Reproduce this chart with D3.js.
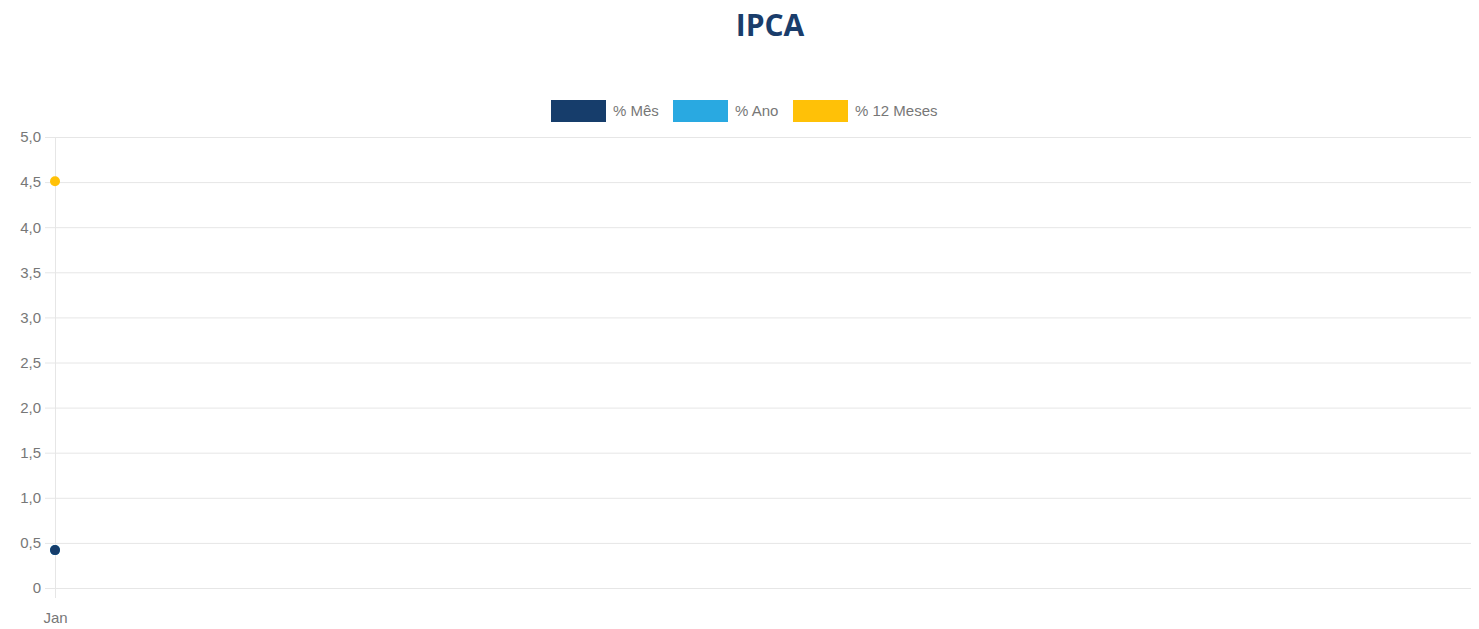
<!DOCTYPE html>
<html>
<head>
<meta charset="utf-8">
<script src="https://cdn.jsdelivr.net/npm/d3@7"></script>
<style>
  body { margin: 0; background: #fff; }
  svg { display: block; }
</style>
</head>
<body>
<svg id="graph"></svg>
<script>
const months = ["Jan"];
const seriesNames = ["% Mês", "% Ano", "% 12 Meses"];
const seriesColors = ["#163d6b", "#29a9e1", "#ffc107"];
const mes = [0.42];
const ano = [0.42];
const doze = [4.51];
const yTicks = [0, 0.5, 1, 1.5, 2, 2.5, 3, 3.5, 4, 4.5, 5];

const width = 1479;
const height = 629;
const margin = { top: 137, right: 8, bottom: 41, left: 55 };

const svg = d3.select("#graph").attr("width", width).attr("height", height);

const x = d3.scalePoint()
  .domain(months)
  .range([margin.left, width - margin.right])
  .align(0);
const y = d3.scaleLinear()
  .domain([0, 5])
  .range([height - margin.bottom, margin.top]);

const fmt = (v) => (v === 0 ? "0" : d3.format(".1f")(v).replace(".", ","));

// title
svg.append("text")
  .attr("x", 770)
  .attr("y", 36)
  .attr("text-anchor", "middle")
  .attr("font-family", "Open Sans")
  .attr("font-weight", "bold")
  .attr("font-size", 30)
  .attr("fill", "#1a3d6b")
  .text("IPCA");

// legend
const legendX = [551, 673, 793];
const legend = svg.append("g")
  .selectAll("g")
  .data(seriesNames)
  .join("g")
  .attr("transform", (d, i) => `translate(${legendX[i]},100)`);
legend.append("rect")
  .attr("width", 55)
  .attr("height", 22)
  .attr("fill", (d, i) => seriesColors[i]);
legend.append("text")
  .attr("x", 62)
  .attr("y", 16)
  .attr("font-family", "Liberation Sans, Arial")
  .attr("font-size", 15)
  .attr("fill", "#777")
  .text((d) => d);

// y grid + axis
svg.append("g")
  .attr("transform", `translate(${margin.left},0)`)
  .call(
    d3.axisLeft(y)
      .tickValues(yTicks)
      .tickFormat(fmt)
      .tickSize(-(width - margin.right - margin.left))
      .tickPadding(14)
  )
  .call((g) => g.select(".domain").remove())
  .call((g) => g.selectAll(".tick line").attr("stroke", "#e6e6e6").attr("x1", -10))
  .call((g) =>
    g.selectAll(".tick text")
      .attr("fill", "#777")
      .attr("font-family", "Liberation Sans, Arial")
      .attr("font-size", 15)
  );

// x axis
svg.append("g")
  .attr("transform", `translate(0,${margin.top})`)
  .call(
    d3.axisBottom(x)
      .tickSize(height - margin.bottom - margin.top + 10)
      .tickPadding(14)
  )
  .call((g) => g.select(".domain").remove())
  .call((g) => g.selectAll(".tick line").attr("stroke", "#e6e6e6"))
  .call((g) =>
    g.selectAll(".tick text")
      .attr("fill", "#777")
      .attr("font-family", "Liberation Sans, Arial")
      .attr("font-size", 15)
  );

// points (first series drawn last, on top)
const series = [mes, ano, doze];
const points = series
  .map((vals, i) => vals.map((v, j) => ({ s: i, m: months[j], v })))
  .flat()
  .reverse();

svg.append("g")
  .selectAll("circle")
  .data(points)
  .join("circle")
  .attr("cx", (d) => x(d.m))
  .attr("cy", (d) => y(d.v))
  .attr("r", 5)
  .attr("fill", (d) => seriesColors[d.s]);
</script>
</body>
</html>
